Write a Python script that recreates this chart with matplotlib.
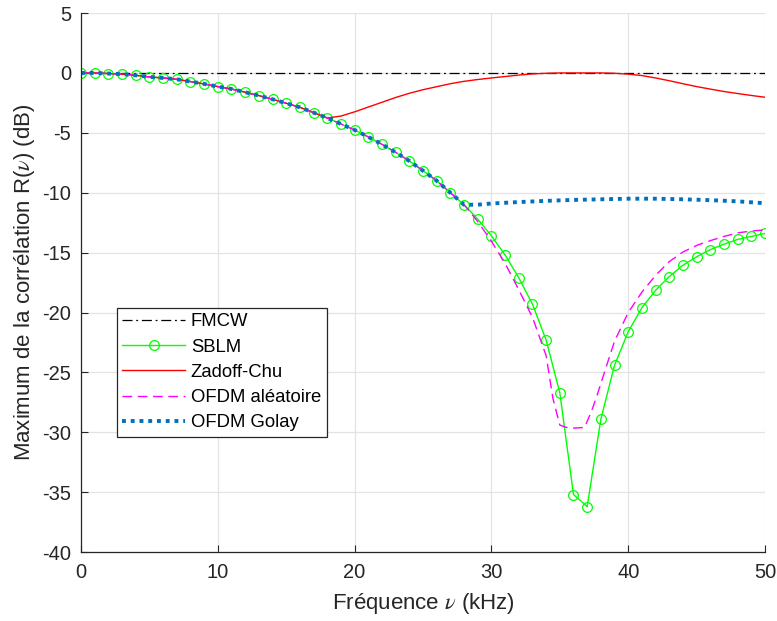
import numpy as np
import matplotlib
matplotlib.use("agg")
import matplotlib.pyplot as plt

plt.rcParams['font.family'] = ['Liberation Sans', 'DejaVu Sans']
plt.rcParams['mathtext.fontset'] = 'stix'

# partie commune (0..28 kHz)
freq_commun = list(range(0, 29))
val_commun = [0.0, 0.0, -0.05, -0.1, -0.2, -0.33, -0.42, -0.53, -0.72, -0.92,
              -1.14, -1.34, -1.61, -1.89, -2.2, -2.53, -2.87, -3.31, -3.76, -4.26,
              -4.76, -5.34, -5.96, -6.63, -7.35, -8.16, -9.0, -10.0, -11.0]

# SBLM (29..50)
freq_sblm = list(range(29, 51))
val_sblm = [-12.2, -13.6, -15.2, -17.1, -19.3, -22.3, -26.7, -35.2, -36.2, -28.9,
            -24.4, -21.6, -19.6, -18.15, -17.0, -16.05, -15.35, -14.75, -14.3, -13.9,
            -13.65, -13.4]

# Zadoff-Chu (19..50)
freq_zc = list(range(19, 51))
val_zc = [-3.6, -3.25, -2.85, -2.45, -2.05, -1.7, -1.4, -1.15, -0.9, -0.7,
          -0.55, -0.42, -0.3, -0.18, -0.08, -0.03, 0.0, 0.0, 0.0, 0.0,
          -0.03, -0.1, -0.22, -0.42, -0.65, -0.9, -1.14, -1.35, -1.55, -1.72,
          -1.88, -2.03]

# OFDM aleatoire
freq_alea = [29, 30, 31, 32, 33, 34, 34.5, 35, 35.5, 36, 36.8, 37.3, 37.7, 38.4,
             39, 40, 41, 42, 43, 44, 45, 46, 47, 48, 49, 50]
val_alea = [-12.4, -14.05, -15.9, -18.1, -20.4, -23.6, -27.2, -29.4, -29.6, -29.65,
            -29.6, -28.3, -27.0, -24.5, -22.4, -20.0, -18.3, -16.9, -15.75, -14.95,
            -14.4, -14.0, -13.65, -13.35, -13.2, -13.1]

# OFDM Golay
freq_golay = [29, 30, 32, 34, 36, 38, 40, 42, 44, 46, 48, 50]
val_golay = [-11.0, -10.9, -10.78, -10.68, -10.6, -10.55, -10.5, -10.5, -10.55,
             -10.62, -10.72, -10.88]

fig = plt.figure(figsize=(7.77, 6.21), dpi=100)
ax = fig.add_axes([0.1042, 0.111, 0.8804, 0.868])

ax.plot([0, 50], [0, 0], color='k', linestyle='-.', linewidth=0.9,
        dashes=(8, 3, 1.5, 3), label='FMCW')
ax.plot(freq_commun + freq_sblm, val_commun + val_sblm, color=(0, 1, 0), linewidth=1.0,
        marker='o', markersize=7, markerfacecolor='none', markeredgewidth=0.9,
        label='SBLM')
ax.plot(freq_commun[:19] + freq_zc, val_commun[:19] + val_zc, color=(1, 0, 0),
        linewidth=1.0, label='Zadoff-Chu')
ax.plot(freq_commun + freq_alea, val_commun + val_alea, color=(1, 0, 1), linewidth=1.0,
        linestyle='--', dashes=(7, 4), label='OFDM aléatoire')
ax.plot(freq_commun + freq_golay, val_commun + val_golay, color=(0, 0.447, 0.741),
        linewidth=2.8, linestyle=':', dashes=(1, 1.25), dash_capstyle='butt',
        label='OFDM Golay')

ax.set_xlim(0, 50)
ax.set_ylim(-40, 5)
ax.set_xticks(range(0, 51, 10))
ax.set_yticks(range(-40, 6, 5))
ax.set_yticklabels([str(v) for v in range(-40, 6, 5)])
ax.grid(True, color='#e3e3e3', linewidth=0.9)
ax.set_axisbelow(True)
for s in ['top', 'right']:
    ax.spines[s].set_visible(False)
for s in ['left', 'bottom']:
    ax.spines[s].set_color('#262626')
    ax.spines[s].set_linewidth(0.9)
ax.tick_params(direction='in', length=5, width=0.8, colors='#262626', labelsize=14.5)
ax.tick_params(axis='x', pad=8)
ax.tick_params(axis='y', pad=7)

ax.set_xlabel('Fréquence $\\nu$ (kHz)', fontsize=16, color='#262626', labelpad=6)
ax.set_ylabel('Maximum de la corrélation R($\\nu$) (dB)', fontsize=16,
              color='#262626', labelpad=4)

leg = ax.legend(loc='lower left', bbox_to_anchor=(0.0526, 0.2134), borderaxespad=0,
                fontsize=13.3, handlelength=3.4, handletextpad=0.3, labelspacing=0.45,
                fancybox=False, framealpha=1, edgecolor='#262626', borderpad=0.3)
leg.get_frame().set_linewidth(0.9)

plt.savefig('out.png', dpi=100)
